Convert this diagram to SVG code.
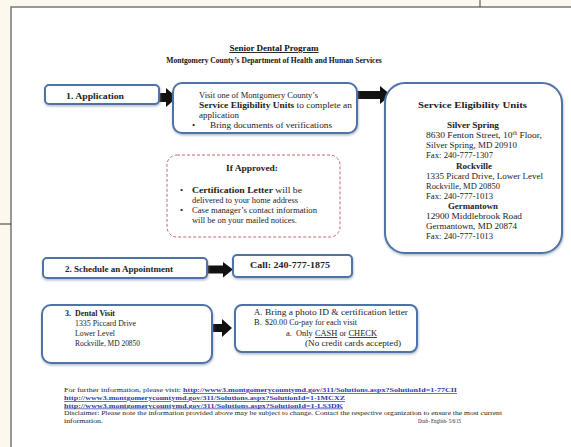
<svg xmlns="http://www.w3.org/2000/svg" width="571" height="447" viewBox="0 0 571 447">
<defs>
<style>
.t{font-family:"Liberation Serif",serif;fill:#222;font-size:9px}
.s{font-size:8px}
.m{font-size:8.6px}
.b{font-weight:bold}
.box{fill:#fff;stroke:#4f72a8;stroke-width:2}
.arr{fill:#111}
.f{font-family:"Liberation Serif",serif;font-size:7px;fill:#222}
.lnk{fill:#2a3aa8;font-weight:bold;text-decoration:underline}
.hd{font-family:"Liberation Serif",serif;font-weight:bold;fill:#111}
</style>
<filter id="sh" x="-10%" y="-10%" width="120%" height="130%">
<feDropShadow dx="0.5" dy="1.5" stdDeviation="1.2" flood-color="#8090a8" flood-opacity="0.6"/>
</filter>
</defs>
<rect x="0" y="0" width="571" height="447" fill="#fcf8ee"/>
<rect x="11" y="7" width="570" height="450" fill="#fff" stroke="#777" stroke-width="1.5"/>
<line x1="0" y1="224" x2="11" y2="224" stroke="#333" stroke-width="1"/>
<line x1="480" y1="0" x2="480" y2="7" stroke="#444" stroke-width="1"/>

<g id="title">
<text class="hd" x="274" y="51" font-size="9" text-anchor="middle" text-decoration="underline">Senior Dental Program</text>
<text class="hd" x="274" y="63" font-size="7.6" text-anchor="middle">Montgomery County’s Department of Health and Human Services</text>
</g>

<g id="connectors">
<polygon class="arr" points="158,93 166,93 166,88 177,97.5 166,107 166,102 158,102"/>
<polygon class="arr" points="357,91 380,91 380,86 391,95 380,104 380,99 357,99"/>
<polygon class="arr" points="207,265.5 223,265.5 223,262 233,269.5 223,277.5 223,273.5 207,273.5"/>
<polygon class="arr" points="212,324 222,324 222,319 232,328 222,337 222,332 212,332"/>
</g>

<g id="n-application">
<rect class="box" filter="url(#sh)" x="45" y="85" width="114" height="19" rx="4"/>
<text class="t b" x="66" y="99" textLength="58" lengthAdjust="spacingAndGlyphs">1.  Application</text>
</g>

<g id="n-visit">
<rect class="box" filter="url(#sh)" x="173" y="83" width="184" height="50" rx="9"/>
<text class="t" x="199" y="98" textLength="119" lengthAdjust="spacingAndGlyphs">Visit one of Montgomery County’s</text>
<text class="t" x="199" y="108" textLength="153" lengthAdjust="spacingAndGlyphs"><tspan class="b">Service Eligibility Units</tspan> to complete an</text>
<text class="t" x="199" y="118">application</text>
<text class="t" x="192" y="128">•</text>
<text class="t" x="210" y="128" textLength="122" lengthAdjust="spacingAndGlyphs">Bring documents of verifications</text>
</g>

<g id="n-units">
<rect class="box" filter="url(#sh)" x="385" y="83" width="177" height="170" rx="20"/>
<text class="t b" x="418" y="108" font-size="10.5" textLength="109" lengthAdjust="spacingAndGlyphs">Service Eligibility Units</text>
<text class="t b" x="447" y="128" textLength="52" lengthAdjust="spacingAndGlyphs">Silver Spring</text>
<text class="t" x="426" y="138" textLength="116" lengthAdjust="spacingAndGlyphs">8630 Fenton Street, 10<tspan font-size="5.5" dy="-3">th</tspan><tspan dy="3"> Floor,</tspan></text>
<text class="t" x="426" y="148" textLength="91" lengthAdjust="spacingAndGlyphs">Silver Spring, MD 20910</text>
<text class="t" x="426" y="158" textLength="67" lengthAdjust="spacingAndGlyphs">Fax: 240-777-1307</text>
<text class="t b" x="456" y="169" textLength="36" lengthAdjust="spacingAndGlyphs">Rockville</text>
<text class="t" x="426" y="179" textLength="117" lengthAdjust="spacingAndGlyphs">1335 Picard Drive, Lower Level</text>
<text class="t" x="426" y="189" textLength="74" lengthAdjust="spacingAndGlyphs">Rockville, MD 20850</text>
<text class="t" x="426" y="199" textLength="67" lengthAdjust="spacingAndGlyphs">Fax: 240-777-1013</text>
<text class="t b" x="448" y="209" textLength="50" lengthAdjust="spacingAndGlyphs">Germantown</text>
<text class="t" x="426" y="219" textLength="96" lengthAdjust="spacingAndGlyphs">12900 Middlebrook Road</text>
<text class="t" x="426" y="229" textLength="91" lengthAdjust="spacingAndGlyphs">Germantown, MD 20874</text>
<text class="t" x="426" y="239" textLength="67" lengthAdjust="spacingAndGlyphs">Fax: 240-777-1013</text>
</g>

<g id="n-approved">
<rect x="167" y="155" width="173" height="82" rx="10" fill="#fff" stroke="#c4686a" stroke-width="1" stroke-dasharray="3,2"/>
<text class="t b" x="226" y="171" textLength="52" lengthAdjust="spacingAndGlyphs">If Approved:</text>
<text class="t" x="180" y="193">•</text>
<text class="t" x="192" y="193" textLength="110" lengthAdjust="spacingAndGlyphs"><tspan class="b">Certification Letter</tspan> will be</text>
<text class="t" x="192" y="203" textLength="106" lengthAdjust="spacingAndGlyphs">delivered to your home address</text>
<text class="t" x="180" y="213">•</text>
<text class="t" x="192" y="213" textLength="125" lengthAdjust="spacingAndGlyphs">Case manager’s contact information</text>
<text class="t" x="192" y="223" textLength="105" lengthAdjust="spacingAndGlyphs">will be on your mailed notices.</text>
</g>

<g id="n-schedule">
<rect class="box" filter="url(#sh)" x="43" y="258" width="164" height="20" rx="4"/>
<text class="t b" x="65" y="271.5" font-size="7.5">2.  Schedule an Appointment</text>
</g>

<g id="n-call">
<rect class="box" filter="url(#sh)" x="233" y="255" width="119" height="22" rx="4"/>
<text class="t b" x="250" y="268" textLength="80" lengthAdjust="spacingAndGlyphs">Call: 240-777-1875</text>
</g>

<g id="n-dental">
<rect class="box" filter="url(#sh)" x="42" y="305" width="170" height="58" rx="9"/>
<text class="t s b" x="65" y="316">3.</text>
<text class="t s b" x="75" y="316" textLength="40" lengthAdjust="spacingAndGlyphs">Dental Visit</text>
<text class="t s" x="75" y="326" textLength="61" lengthAdjust="spacingAndGlyphs">1335 Piccard Drive</text>
<text class="t s" x="75" y="336" textLength="40" lengthAdjust="spacingAndGlyphs">Lower Level</text>
<text class="t s" x="75" y="346" textLength="65" lengthAdjust="spacingAndGlyphs">Rockville, MD 20850</text>
</g>

<g id="n-bring">
<rect class="box" filter="url(#sh)" x="235" y="305" width="182" height="47" rx="7"/>
<text class="t m" x="254" y="315">A.</text>
<text class="t m" x="265" y="315" textLength="143" lengthAdjust="spacingAndGlyphs">Bring a photo ID &amp; certification letter</text>
<text class="t m" x="254" y="325">B.</text>
<text class="t m" x="265" y="325" textLength="92" lengthAdjust="spacingAndGlyphs">$20.00 Co-pay for each visit</text>
<text class="t m" x="286" y="336">a.</text>
<text class="t m" x="296" y="336" textLength="81" lengthAdjust="spacingAndGlyphs">Only <tspan text-decoration="underline">CASH</tspan> or <tspan text-decoration="underline">CHECK</tspan></text>
<text class="t m" x="305" y="346" textLength="96" lengthAdjust="spacingAndGlyphs">(No credit cards accepted)</text>
</g>

<g id="footer">
<text class="f" x="64" y="392" textLength="393" lengthAdjust="spacingAndGlyphs">For further information, please visit: <tspan class="lnk">http://www3.montgomerycountymd.gov/311/Solutions.aspx?SolutionId=1-77CII</tspan></text>
<text class="f lnk" x="64" y="400" textLength="281" lengthAdjust="spacingAndGlyphs">http://www3.montgomerycountymd.gov/311/Solutions.aspx?SolutionId=1-1MCXZ</text>
<text class="f lnk" x="64" y="407.5" textLength="279" lengthAdjust="spacingAndGlyphs">http://www3.montgomerycountymd.gov/311/Solutions.aspx?SolutionId=1-LS3DK</text>
<text class="f" x="64" y="415" textLength="438" lengthAdjust="spacingAndGlyphs">Disclaimer: Please note the information provided above may be subject to change. Contact the respective organization to ensure the most current</text>
<text class="f" x="64" y="422.5" textLength="39" lengthAdjust="spacingAndGlyphs">information.</text>
<text class="f" x="418" y="422.5" textLength="43" lengthAdjust="spacingAndGlyphs">Draft- English- 5/6/15</text>
</g>
</svg>
